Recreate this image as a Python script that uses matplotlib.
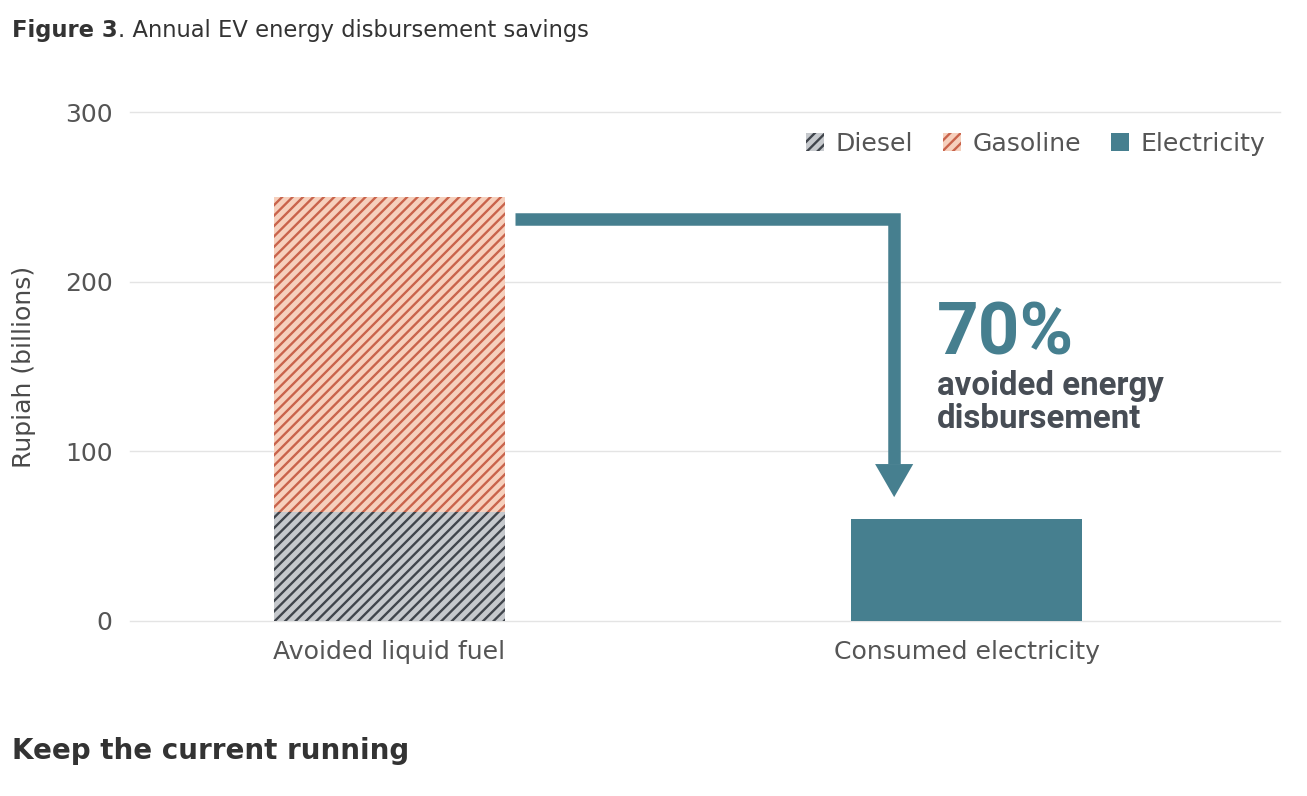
import matplotlib
matplotlib.use("Agg")
import matplotlib.pyplot as plt
from matplotlib.patches import Patch, Polygon

# Values (Rupiah, billions)
categories = ["Avoided liquid fuel", "Consumed electricity"]
diesel = [64, 0]
gasoline = [186, 0]
electricity = [0, 60]
avoided_label = "70%"
avoided_text = "avoided energy\ndisbursement"
y_ticks = [0, 100, 200, 300]

TEAL = "#467f8f"
GAS_FACE, GAS_HATCH = "#f6d0bd", "#c9634b"
DSL_FACE, DSL_HATCH = "#c6c9cd", "#40454c"
TEXT = "#555555"
DARK = "#333333"

plt.rcParams["font.family"] = "DejaVu Sans"
plt.rcParams["hatch.linewidth"] = 1.35

fig = plt.figure(figsize=(1307 / 125, 796 / 125), dpi=125)
ax = fig.add_axes([130 / 1307, 175 / 796, 1150 / 1307, 509 / 796])

x = list(range(len(categories)))
width = 0.4
ax.bar(x, diesel, width, color=DSL_FACE, edgecolor=DSL_HATCH, hatch="////", linewidth=0, zorder=2)
ax.bar(x, gasoline, width, bottom=diesel, color=GAS_FACE, edgecolor=GAS_HATCH, hatch="////",
       linewidth=0, zorder=2)
ax.bar(x, electricity, width, color=TEAL, linewidth=0, zorder=2)

ax.set_xlim(-0.449, 1.542)
ax.set_ylim(0, 300)
ax.set_yticks(y_ticks)
ax.set_xticks(x)
ax.set_xticklabels(categories)
ax.tick_params(axis="both", length=0, colors=TEXT)
ax.tick_params(axis="y", labelsize=14.4, pad=10)
ax.tick_params(axis="x", labelsize=14.5, pad=11)
ax.grid(axis="y", color="#e4e4e4", linewidth=0.8, zorder=0)
for gl in ax.get_ygridlines():
    gl.set_clip_on(False)
for s in ax.spines.values():
    s.set_visible(False)
ax.set_ylabel("Rupiah (billions)", fontsize=14.5, color="#4a4a4a")
ax.yaxis.set_label_coords(-0.082, 0.5)

# arrow from the fuel bar down to the electricity bar
total = diesel[0] + gasoline[0]
arrow_y = total - 13
arrow_x0 = x[0] + width / 2 + 0.017
arrow_x = 0.874
tip_y = electricity[1] + 13
head_h = 19.5
head_w = 0.066
ax.plot([arrow_x0, arrow_x, arrow_x], [arrow_y, arrow_y, tip_y + head_h], color=TEAL,
        linewidth=7.2, solid_capstyle="butt", solid_joinstyle="miter", zorder=3)
ax.add_patch(Polygon([[arrow_x - head_w / 2, tip_y + head_h], [arrow_x + head_w / 2, tip_y + head_h],
                      [arrow_x, tip_y]], closed=True, color=TEAL, linewidth=0, zorder=3))

ax.text(0.948, 157, avoided_label, fontsize=42, fontweight="bold", color=TEAL,
        family="Roboto", va="baseline", ha="left")
ax.text(0.948, 148, avoided_text, fontsize=19, fontweight="bold", color="#474d55",
        family="Roboto", va="top", ha="left", linespacing=1.05)

handles = [
    Patch(facecolor=DSL_FACE, edgecolor=DSL_HATCH, hatch="////", linewidth=0, label="Diesel"),
    Patch(facecolor=GAS_FACE, edgecolor=GAS_HATCH, hatch="////", linewidth=0, label="Gasoline"),
    Patch(facecolor=TEAL, linewidth=0, label="Electricity"),
]
leg = fig.legend(handles=handles, loc="center right", bbox_to_anchor=(1278 / 1307, 1 - 144 / 796),
                 ncol=3, frameon=False, fontsize=14.5, borderpad=0, handlelength=0.72,
                 handleheight=0.72, handletextpad=0.45, columnspacing=1.2)
for t in leg.get_texts():
    t.set_color(TEXT)

# title: bold part then regular part
t1 = fig.text(12 / 1307, 1 - 30 / 796, "Figure 3", fontsize=13, fontweight="bold",
              color=DARK, va="center", ha="left")
fig.canvas.draw()
bb = t1.get_window_extent()
fig.text(bb.x1 / fig.bbox.width, 1 - 30 / 796, ". Annual EV energy disbursement savings",
         fontsize=13, color=DARK, va="center", ha="left")

fig.text(12 / 1307, 1 - 751 / 796, "Keep the current running", fontsize=16, fontweight="bold",
         color=DARK, va="center", ha="left")

fig.savefig("out.png", dpi=125, facecolor="white")
